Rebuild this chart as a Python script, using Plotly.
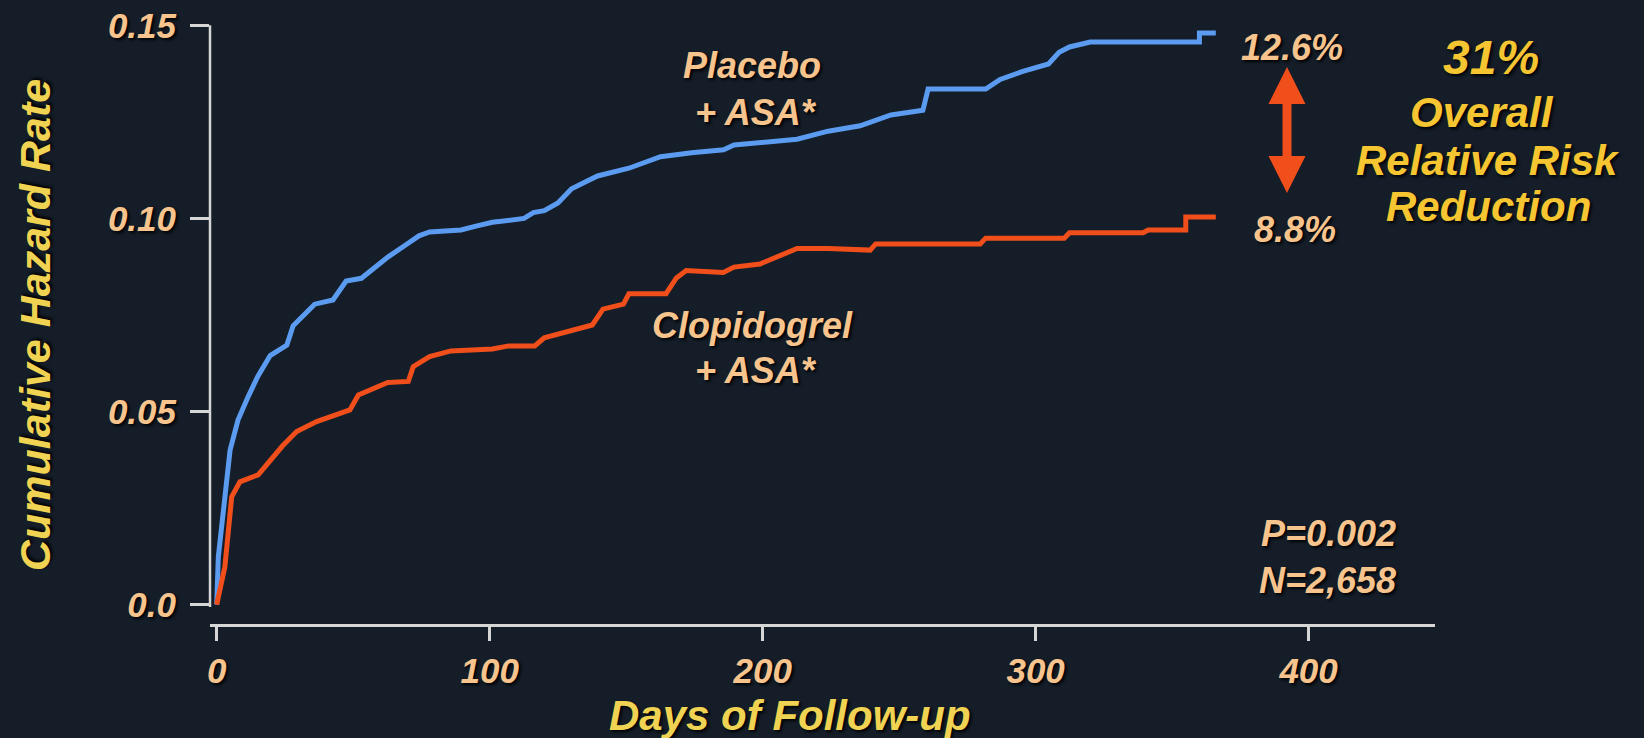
import plotly.graph_objects as go

# Kaplan-Meier style cumulative hazard curves (days of follow-up vs. hazard)
days_placebo = [0, 0.6, 4.9, 7.8, 11.5, 15, 19.6, 25.7, 28, 35.9, 42.6, 47.4, 53, 62.7,
                70, 74.1, 78, 89.5, 95, 101, 112.6, 116, 120, 125, 130, 139.5, 151,
                162.6, 174, 185.7, 189.5, 212.6, 224, 235.7, 247, 258.7, 260.6, 281.7,
                287, 295, 304.7, 308.6, 312.4, 320, 360, 360, 366]
hazard_placebo = [0, 0.0124, 0.040, 0.0478, 0.0538, 0.059, 0.0645, 0.0672, 0.0722,
                  0.0778, 0.0789, 0.0838, 0.0845, 0.090, 0.0935, 0.0955, 0.0965,
                  0.0970, 0.098, 0.099, 0.100, 0.1015, 0.102, 0.104, 0.1077, 0.111,
                  0.113, 0.116, 0.117, 0.1178, 0.119, 0.1205, 0.1226, 0.124, 0.1268,
                  0.128, 0.1335, 0.1335, 0.136, 0.138, 0.140, 0.143, 0.1444, 0.1457,
                  0.1457, 0.148, 0.148]

days_clopidogrel = [0, 3.0, 5.5, 8.5, 15.2, 18.3, 24, 29.3, 36.6, 48.8, 51.9, 62.7, 70.2,
                    72, 78, 85.8, 101, 107, 116.5, 120, 130, 137.6, 141.5, 149, 151,
                    164.6, 168.4, 172, 185.6, 189.5, 199, 205, 212.6, 224, 239.4, 241.4,
                    279.7, 281.7, 310.5, 312.4, 339.4, 341.2, 355, 355, 366]
hazard_clopidogrel = [0, 0.0098, 0.0279, 0.0318, 0.0336, 0.0362, 0.041, 0.0448, 0.0474,
                      0.0504, 0.0543, 0.0575, 0.0578, 0.0616, 0.0642, 0.0657, 0.0662,
                      0.067, 0.067, 0.0691, 0.071, 0.0724, 0.0765, 0.0778, 0.0805,
                      0.0805, 0.0846, 0.0865, 0.086, 0.0874, 0.0882, 0.090, 0.0922,
                      0.0922, 0.0918, 0.0934, 0.0934, 0.0949, 0.0949, 0.0963, 0.0963,
                      0.097, 0.097, 0.1004, 0.1004]

x_ticks = [0, 100, 200, 300, 400]
y_ticks = [0, 0.05, 0.10, 0.15]
y_tick_labels = ["0.0", "0.05", "0.10", "0.15"]

rate_placebo = "12.6%"
rate_clopidogrel = "8.8%"
rrr_lines = ["31%", "Overall", "Relative Risk", "Reduction"]
stats_lines = ["P=0.002", "N=2,658"]

# styling
BG = "#141d28"
BLUE = "#5b9bf0"
ORANGE = "#f04e1a"
PEACH = "#f8c48e"
YELLOW = "#f0d352"
GOLD = "#f6c532"
AXIS = "#d6d6d6"
FAMILY = "Liberation Sans, Arial, sans-serif"
SHADOW = "2px 2px 3px rgba(0,0,0,0.9)"

W, H = 1644, 738
L, R, T, B = 210, 1435, 15, 624  # plot area edges in pixels


def px_x(px):
    return (px - L) / (R - L)


def px_y(py):
    return (B - py) / (B - T)


def font(size, color):
    return dict(family=FAMILY, size=size, color=color, weight="bold",
                style="italic", shadow=SHADOW)


fig = go.Figure()
fig.add_trace(go.Scatter(x=days_placebo, y=hazard_placebo, mode="lines",
                         line=dict(color=BLUE, width=5), name="Placebo + ASA*"))
fig.add_trace(go.Scatter(x=days_clopidogrel, y=hazard_clopidogrel, mode="lines",
                         line=dict(color=ORANGE, width=5), name="Clopidogrel + ASA*"))

annotations = []


def label(text, cx, cy, size, color, xanchor="center"):
    annotations.append(dict(text=text, xref="paper", yref="paper", x=px_x(cx), y=px_y(cy),
                            xanchor=xanchor, yanchor="middle", showarrow=False,
                            font=font(size, color)))


label("Placebo", 752, 65, 36, PEACH)
label("+ ASA*", 756, 112, 36, PEACH)
label("Clopidogrel", 752, 325, 36, PEACH)
label("+ ASA*", 756, 371, 36, PEACH)
label(rate_placebo, 1292, 47, 36, PEACH)
label(rate_clopidogrel, 1295, 229, 36, PEACH)
for txt, cx, cy, sz in zip(rrr_lines, [1491, 1482, 1488, 1488], [57, 112, 160, 207],
                           [48, 42, 42, 42]):
    label(txt, cx, cy, sz, GOLD)
label(stats_lines[0], 1398, 533, 36, PEACH, xanchor="right")
label(stats_lines[1], 1398, 580, 36, PEACH, xanchor="right")

# axis titles
label("Days of Follow-up", 790, 715, 42, YELLOW)
annotations.append(dict(text="Cumulative Hazard Rate", xref="paper", yref="paper",
                        x=px_x(35), y=px_y(325), xanchor="center", yanchor="middle",
                        textangle=-90, showarrow=False, font=font(43, YELLOW)))

# double-headed arrow between the two event rates (pixel geometry)
ax, top, bot = 1287, 67, 193
head_h, head_w, shaft_w = 37, 18.5, 4.5
pts = [(ax, top), (ax + head_w, top + head_h), (ax + shaft_w, top + head_h),
       (ax + shaft_w, bot - head_h), (ax + head_w, bot - head_h), (ax, bot),
       (ax - head_w, bot - head_h), (ax - shaft_w, bot - head_h),
       (ax - shaft_w, top + head_h), (ax - head_w, top + head_h)]
path = "M " + " L ".join(f"{px_x(x):.5f},{px_y(y):.5f}" for x, y in pts) + " Z"

shapes = [
    # detached vertical axis line spanning 0 to 0.15
    dict(type="line", xref="paper", yref="y", x0=0, x1=0, y0=-0.0006, y1=0.15,
         line=dict(color=AXIS, width=2.5)),
    dict(type="path", xref="paper", yref="paper", path=path,
         fillcolor=ORANGE, line=dict(width=0)),
]

fig.update_layout(
    width=W, height=H,
    margin=dict(l=L, r=W - R, t=T, b=H - B, autoexpand=False),
    paper_bgcolor=BG, plot_bgcolor=BG,
    showlegend=False,
    annotations=annotations,
    shapes=shapes,
    xaxis=dict(range=[-2.45, 446.3], tickvals=x_ticks, ticktext=[str(v) for v in x_ticks],
               ticks="outside", ticklen=14, tickwidth=2.5, tickcolor=AXIS,
               showline=True, linecolor=AXIS, linewidth=2.5, automargin=False,
               showgrid=False, zeroline=False, ticklabelstandoff=0,
               tickfont=font(35, PEACH)),
    yaxis=dict(range=[-0.00502, 0.15268], tickvals=y_ticks, ticktext=y_tick_labels,
               ticks="outside", ticklen=19, tickwidth=2.5, tickcolor=AXIS,
               showline=False, showgrid=False, zeroline=False, ticklabelstandoff=7,
               automargin=False, tickfont=font(35, PEACH)),
)

fig.write_html("out.html")
